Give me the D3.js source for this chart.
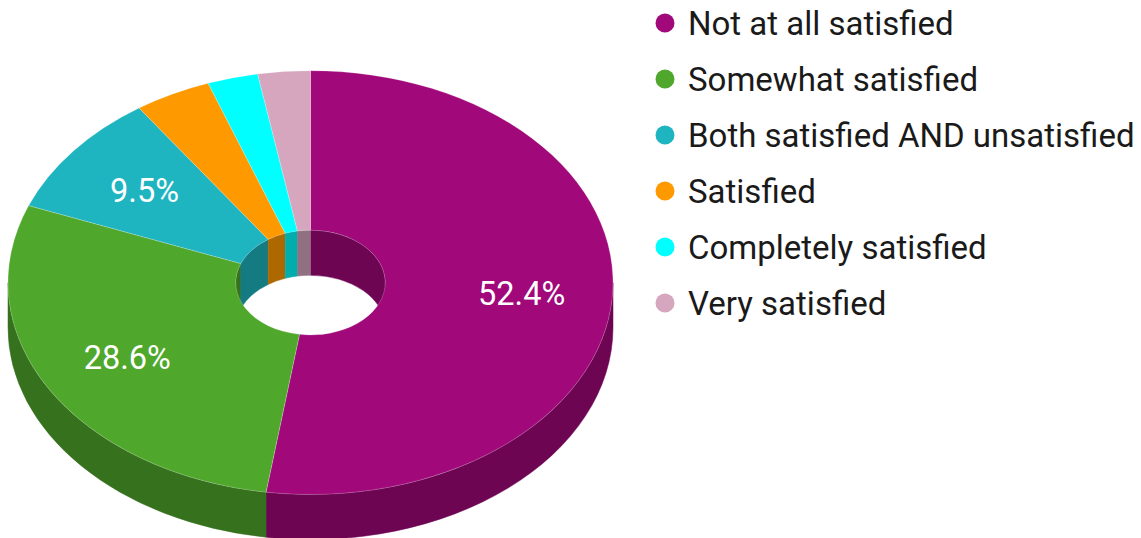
<!DOCTYPE html>
<html>
<head>
<meta charset="utf-8">
<script src="https://cdn.jsdelivr.net/npm/d3@7"></script>
<style>
  html, body { margin: 0; padding: 0; background: #ffffff; }
  svg { display: block; }
</style>
</head>
<body>
<svg id="chart" width="1141" height="538"></svg>
<script>
// Survey answers and their shares (percent of respondents)
const categories = [
  "Not at all satisfied",
  "Somewhat satisfied",
  "Both satisfied AND unsatisfied",
  "Satisfied",
  "Completely satisfied",
  "Very satisfied"
];
const shares = [52.4, 28.6, 9.5, 4.1, 2.7, 2.8];
const colors = ["#a1087a", "#4fa82c", "#1eb5c1", "#ff9900", "#00ffff", "#d5a6bd"];

const W = 1141, H = 538;
const svg = d3.select("#chart");

// Tilted ring geometry
const cx = 310.5, cy = 282.6;   // centre of the top face
const rx = 302.5, ry = 211.9;   // outer ellipse radii
const holeRatio = 0.247;        // inner / outer radius
const rxi = rx * holeRatio, ryi = ry * holeRatio;
const depth = 45;               // thickness of the ring
const labelRadius = 0.7;        // where the percent labels sit

const shade = c => {
  const k = 0.68, col = d3.rgb(c);
  return d3.rgb(col.r * k, col.g * k, col.b * k).formatHex();
};

const pie = d3.pie().sort(null).startAngle(0).endAngle(2 * Math.PI);
const arcs = pie(shares).map((d, i) => ({ ...d, name: categories[i], color: colors[i] }));

// point on an ellipse, angle measured clockwise from 12 o'clock
const pt = (a, ex, ey, dy = 0) => [cx + ex * Math.sin(a), cy - ey * Math.cos(a) + dy];
const fmt = p => p[0].toFixed(2) + "," + p[1].toFixed(2);

// Band between an arc and the same arc shifted down by the ring depth
function bandPath(a0, a1, ex, ey) {
  const large = (a1 - a0) > Math.PI ? 1 : 0;
  return "M" + fmt(pt(a0, ex, ey)) +
    " A" + ex + "," + ey + " 0 " + large + " 1 " + fmt(pt(a1, ex, ey)) +
    " L" + fmt(pt(a1, ex, ey, depth)) +
    " A" + ex + "," + ey + " 0 " + large + " 0 " + fmt(pt(a0, ex, ey, depth)) + " Z";
}

// Annular sector on the top face
function facePath(a0, a1) {
  const large = (a1 - a0) > Math.PI ? 1 : 0;
  return "M" + fmt(pt(a0, rx, ry)) +
    " A" + rx + "," + ry + " 0 " + large + " 1 " + fmt(pt(a1, rx, ry)) +
    " L" + fmt(pt(a1, rxi, ryi)) +
    " A" + rxi + "," + ryi + " 0 " + large + " 0 " + fmt(pt(a0, rxi, ryi)) + " Z";
}

// clip an angular interval to a visible window
function clip(d, lo, hi) {
  const a0 = Math.max(d.startAngle, lo), a1 = Math.min(d.endAngle, hi);
  return a1 > a0 ? [a0, a1] : null;
}

const gPie = svg.append("g");

// Outer wall: front half (3 o'clock through 6 to 9 o'clock)
gPie.append("g").selectAll("path")
  .data(arcs.map(d => ({ d, r: clip(d, Math.PI / 2, 3 * Math.PI / 2) })).filter(o => o.r))
  .join("path")
  .attr("d", o => bandPath(o.r[0], o.r[1], rx, ry))
  .attr("fill", o => shade(o.d.color))
  .attr("stroke", o => shade(o.d.color))
  .attr("stroke-width", 0.5);

// Inner wall of the hole: back half (9 o'clock through 12 to 3 o'clock)
const backParts = [];
arcs.forEach(d => {
  const r1 = clip(d, 0, Math.PI / 2);
  if (r1) backParts.push({ d, r: r1 });
  const r2 = clip(d, 3 * Math.PI / 2, 2 * Math.PI);
  if (r2) backParts.push({ d, r: r2 });
});
gPie.append("g").selectAll("path")
  .data(backParts)
  .join("path")
  .attr("d", o => bandPath(o.r[0], o.r[1], rxi, ryi))
  .attr("fill", o => shade(o.d.color))
  .attr("stroke", o => shade(o.d.color))
  .attr("stroke-width", 0.5);

// Top faces
gPie.append("g").selectAll("path")
  .data(arcs)
  .join("path")
  .attr("d", d => facePath(d.startAngle, d.endAngle))
  .attr("fill", d => d.color)
  .attr("stroke", "#ffffff")
  .attr("stroke-opacity", 0.35)
  .attr("stroke-width", 0.6);

// Percent labels on the larger slices
const total = d3.sum(shares);
gPie.append("g").selectAll("text")
  .data(arcs.filter(d => d.value / total >= 0.05))
  .join("text")
  .attr("x", d => pt((d.startAngle + d.endAngle) / 2, rx * labelRadius, ry * labelRadius)[0])
  .attr("y", d => pt((d.startAngle + d.endAngle) / 2, rx * labelRadius, ry * labelRadius)[1])
  .attr("dy", "0.36em")
  .attr("text-anchor", "middle")
  .attr("font-family", "Roboto, 'Noto Sans', sans-serif")
  .attr("font-size", 32.5)
  .attr("fill", "#ffffff")
  .text(d => d3.format(".1f")(d.value) + "%");

// Legend
const legend = svg.append("g").attr("transform", "translate(665,23)");
const rows = legend.selectAll("g")
  .data(arcs)
  .join("g")
  .attr("transform", (d, i) => `translate(0,${i * 56})`);
rows.append("circle").attr("r", 9.5).attr("fill", d => d.color);
rows.append("text")
  .attr("x", 23)
  .attr("dy", "0.36em")
  .attr("font-family", "Roboto, 'Noto Sans', sans-serif")
  .attr("font-size", 33)
  .attr("fill", "#1a1a1a")
  .text(d => d.name);
</script>
</body>
</html>
